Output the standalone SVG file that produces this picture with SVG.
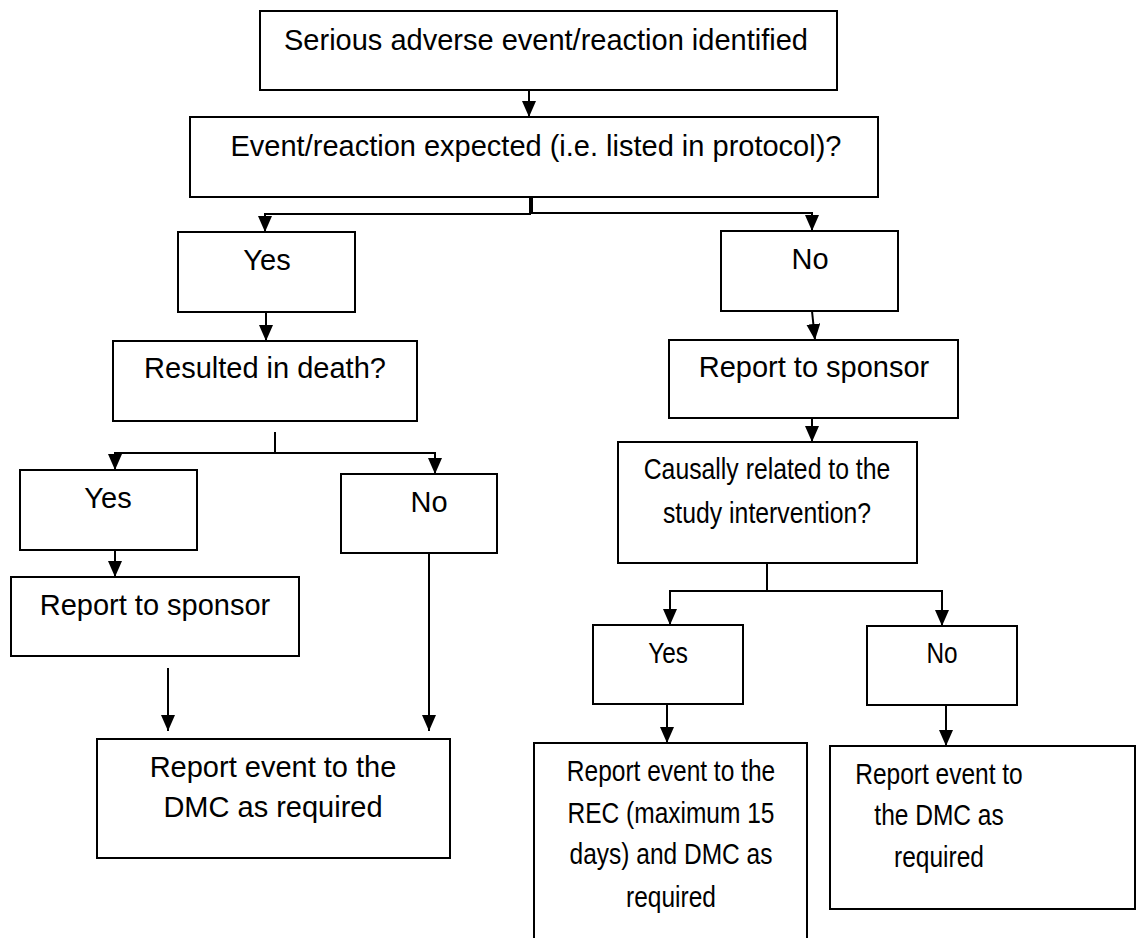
<svg xmlns="http://www.w3.org/2000/svg" width="1137" height="938" viewBox="0 0 1137 938">
<style>
.box{fill:#fff;stroke:#000;stroke-width:2}
.t{font-family:"Liberation Sans",Arial,sans-serif;font-size:29px;fill:#000;text-anchor:middle}
.c{fill:none;stroke:#000;stroke-width:2}
</style>
<defs>
<marker id="ah" markerUnits="userSpaceOnUse" markerWidth="16" markerHeight="14" refX="16" refY="7" orient="auto">
<path d="M0,0 L16,7 L0,14 z" fill="#000"/>
</marker>
</defs>
<rect width="1137" height="938" fill="#fff"/>
<g id="connectors">
<path class="c" d="M529,88 V117" marker-end="url(#ah)"/>
<path class="c" d="M530,197 V214 H265 V232" marker-end="url(#ah)"/>
<path class="c" d="M532,197 V213 H812 V231" marker-end="url(#ah)"/>
<path class="c" d="M266,312 V341" marker-end="url(#ah)"/>
<path class="c" d="M275,432 V453 H115 V470" marker-end="url(#ah)"/>
<path class="c" d="M275,453 H435 V474" marker-end="url(#ah)"/>
<path class="c" d="M115,550 V577" marker-end="url(#ah)"/>
<path class="c" d="M168,668 V731" marker-end="url(#ah)"/>
<path class="c" d="M429,553 V731" marker-end="url(#ah)"/>
<path class="c" d="M812,311 L815,340" marker-end="url(#ah)"/>
<path class="c" d="M812,411 V442" marker-end="url(#ah)"/>
<path class="c" d="M767,563 V591 H670 V625" marker-end="url(#ah)"/>
<path class="c" d="M767,591 H942 V626" marker-end="url(#ah)"/>
<path class="c" d="M667,699 V743" marker-end="url(#ah)"/>
<path class="c" d="M946,705 V746" marker-end="url(#ah)"/>
</g>
<g id="n1"><rect class="box" x="260" y="11" width="577" height="79"/><text class="t" x="546" y="50">Serious adverse event/reaction identified</text></g>
<g id="n2"><rect class="box" x="190" y="117" width="688" height="80"/><text class="t" x="536" y="156">Event/reaction expected (i.e. listed in protocol)?</text></g>
<g id="n3"><rect class="box" x="178" y="232" width="177" height="80"/><text class="t" x="267" y="270">Yes</text></g>
<g id="n4"><rect class="box" x="113" y="341" width="304" height="80"/><text class="t" x="265" y="378">Resulted in death?</text></g>
<g id="n5"><rect class="box" x="20" y="470" width="177" height="80"/><text class="t" x="108" y="508">Yes</text></g>
<g id="n6"><rect class="box" x="341" y="474" width="156" height="79"/><text class="t" x="429" y="512">No</text></g>
<g id="n7"><rect class="box" x="11" y="577" width="288" height="79"/><text class="t" x="155" y="615">Report to sponsor</text></g>
<g id="n8"><rect class="box" x="97" y="739" width="353" height="119"/><text class="t" x="273" y="777">Report event to the</text><text class="t" x="273" y="817">DMC as required</text></g>
<g id="n9"><rect class="box" x="721" y="231" width="177" height="80"/><text class="t" x="810" y="269">No</text></g>
<g id="n10"><rect class="box" x="669" y="340" width="289" height="78"/><text class="t" x="814" y="377">Report to sponsor</text></g>
<g id="n11"><rect class="box" x="618" y="442" width="299" height="121"/>
<g transform="translate(767,0) scale(0.855,1)"><text class="t" x="0" y="479">Causally related to the</text><text class="t" x="0" y="523">study intervention?</text></g></g>
<g id="n12"><rect class="box" x="593" y="625" width="150" height="79"/>
<g transform="translate(668,0) scale(0.84,1)"><text class="t" x="0" y="663">Yes</text></g></g>
<g id="n13"><rect class="box" x="867" y="626" width="150" height="79"/>
<g transform="translate(942,0) scale(0.84,1)"><text class="t" x="0" y="663">No</text></g></g>
<g id="n14"><rect class="box" x="534" y="743" width="273" height="220"/>
<g transform="translate(671,0) scale(0.845,1)"><text class="t" x="0" y="781">Report event to the</text><text class="t" x="0" y="823">REC (maximum 15</text><text class="t" x="0" y="864">days) and DMC as</text><text class="t" x="0" y="907">required</text></g></g>
<g id="n15"><rect class="box" x="830" y="746" width="305" height="163"/>
<g transform="translate(939,0) scale(0.845,1)"><text class="t" x="0" y="784">Report event to</text><text class="t" x="0" y="825">the DMC as</text><text class="t" x="0" y="867">required</text></g></g>
</svg>
